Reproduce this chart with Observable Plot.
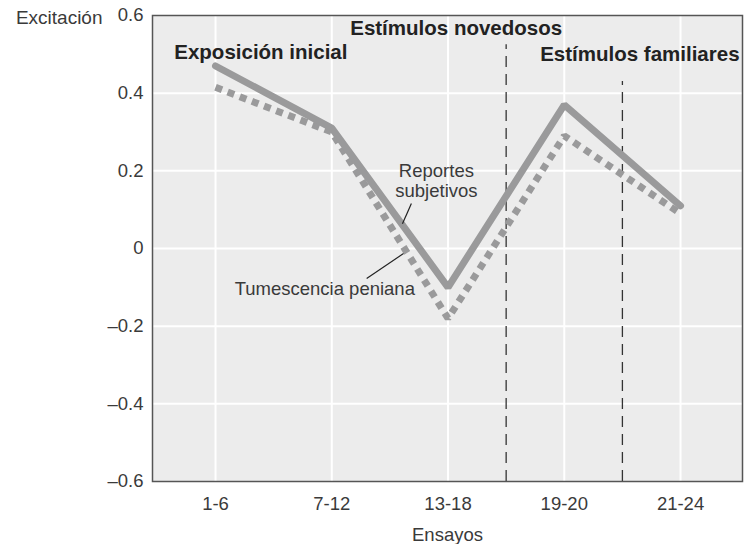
<!DOCTYPE html>
<html><head><meta charset="utf-8">
<script src="https://cdn.jsdelivr.net/npm/d3@7"></script>
<script src="https://cdn.jsdelivr.net/npm/@observablehq/plot@0.6"></script>
<style>body{margin:0;background:#fff}</style>
</head><body><div id="chart"></div>
<script>
// ---- data ----
const ensayos = ["1-6", "7-12", "13-18", "19-20", "21-24"];
const reportesSubjetivos = [0.47, 0.31, -0.10, 0.37, 0.11];
const tumescenciaPeniana = [0.415, 0.30, -0.18, 0.29, 0.09];
const yTicks = [-0.6, -0.4, -0.2, 0, 0.2, 0.4, 0.6];
const faseEtiquetas = ["Exposición inicial", "Estímulos novedosos", "Estímulos familiares"];
const faseX = [0.39, 2.07, 3.65];
const faseY = [0.505, 0.566, 0.50];
const divisionX = [2.5, 3.5];
const divisionTop = [0.525, 0.43];
const serieEtiquetas = ["Reportes\nsubjetivos", "Tumescencia peniana"];
const serieEtiquetaX = [1.9, 0.94];
const serieEtiquetaY = [0.175, -0.103];
const lider = [
  {x1: 1.685, y1: 0.116, x2: 1.608, y2: 0.064},
  {x1: 1.30, y1: -0.077, x2: 1.617, y2: -0.013}
];

const rep = ensayos.map((e, i) => ({i, v: reportesSubjetivos[i]}));
const tum = ensayos.map((e, i) => ({i, v: tumescenciaPeniana[i]}));
const fases = faseEtiquetas.map((t, k) => ({t, x: faseX[k], y: faseY[k]}));
const divs = divisionX.map((x, k) => ({x, top: divisionTop[k]}));
const serieLab = serieEtiquetas.map((t, k) => ({t, x: serieEtiquetaX[k], y: serieEtiquetaY[k]}));

const fmt = d => d === 0 ? "0" : (d < 0 ? "–" : "") + Math.abs(d).toFixed(1);
const gray = "#9a9a9b";

const chart = Plot.plot({
  width: 747, height: 544,
  marginLeft: 152, marginRight: 5, marginTop: 15, marginBottom: 63,
  style: {fontFamily: "'Liberation Sans', Arial, sans-serif", fontSize: "18.5px", color: "#3a3a3a", background: "#fff"},
  x: {type: "linear", domain: [-0.542, 4.533]},
  y: {domain: [-0.6, 0.6]},
  marks: [
    Plot.frame({fill: "#ececec"}),
    Plot.gridX({ticks: [0, 1, 2, 3, 4], stroke: "#fff", strokeOpacity: 1, strokeWidth: 2}),
    Plot.gridY({ticks: yTicks.slice(1, -1), stroke: "#fff", strokeOpacity: 1, strokeWidth: 2}),
    Plot.ruleX(divs, {x: "x", y1: -0.6, y2: "top", stroke: "#333", strokeWidth: 1.3, strokeDasharray: "11,7"}),
    Plot.line(tum, {x: "i", y: "v", stroke: gray, strokeWidth: 7, strokeDasharray: "7,6", strokeLinecap: "butt", strokeLinejoin: "miter"}),
    Plot.line(rep, {x: "i", y: "v", stroke: gray, strokeWidth: 7, strokeLinejoin: "miter"}),
    Plot.link(lider, {x1: "x1", y1: "y1", x2: "x2", y2: "y2", stroke: "#222", strokeWidth: 1.2}),
    Plot.text(serieLab, {x: "x", y: "y", text: "t", fontSize: 18.5, fill: "#3a3a3a", lineHeight: 1.1}),
    Plot.text(fases, {x: "x", y: "y", text: "t", fontSize: 20.5, fontWeight: "bold", fill: "#222"}),
    Plot.frame({stroke: "#555", strokeWidth: 1.5}),
    Plot.axisY({ticks: yTicks, tickFormat: fmt, tickSize: 0, tickPadding: 9, label: null, fontSize: 18.5}),
    Plot.axisX({ticks: [0, 1, 2, 3, 4], tickFormat: i => ensayos[i], tickSize: 0, tickPadding: 15, label: null, fontSize: 18.5}),
    Plot.text(["Excitación"], {frameAnchor: "top-left", dx: -50, dy: 2, textAnchor: "end", lineAnchor: "middle", fontSize: 19, fill: "#3a3a3a"}),
    Plot.text(["Ensayos"], {frameAnchor: "bottom", dy: 54, lineAnchor: "middle", fontSize: 18.5, fill: "#3a3a3a"})
  ]
});
document.getElementById("chart").append(chart);
</script>
</body></html>
